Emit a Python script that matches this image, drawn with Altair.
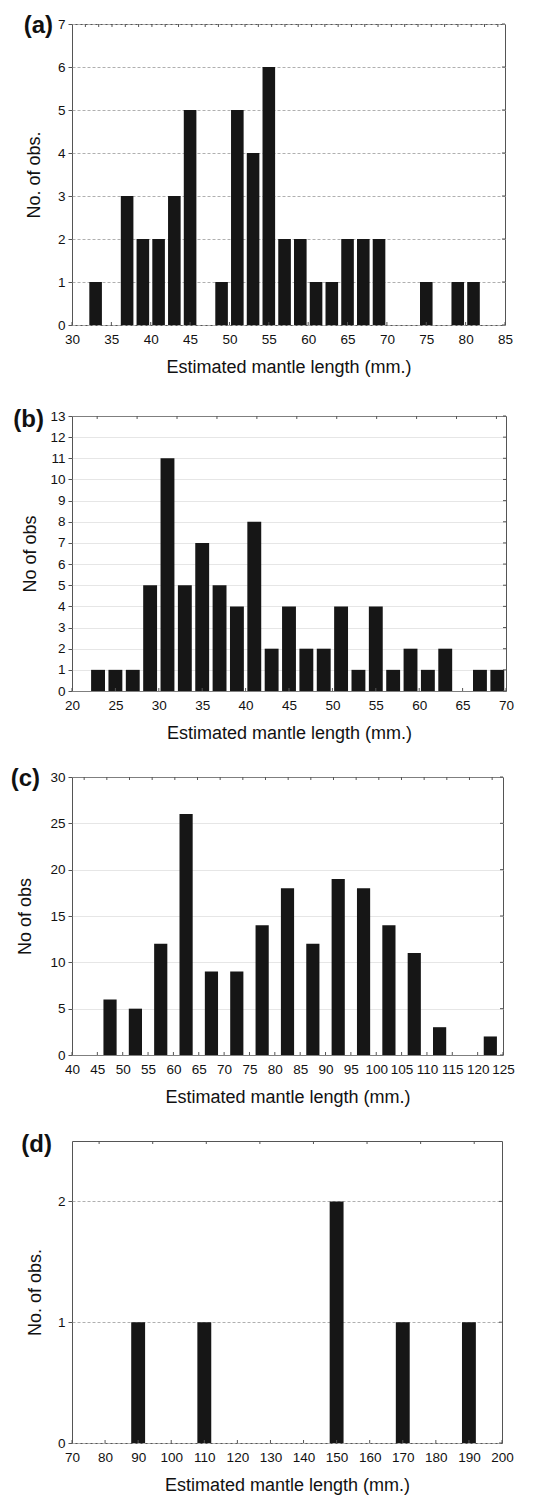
import altair as alt
import numpy as np
import pandas as pd

# ---------------- data ----------------
# (a)
a_mid = [33, 35, 37, 39, 41, 43, 45, 47, 49, 51, 53, 55, 57, 59, 61, 63, 65, 67, 69, 71, 73, 75, 77, 79, 81]
a_cnt = [1, 0, 3, 2, 2, 3, 5, 0, 1, 5, 4, 6, 2, 2, 1, 1, 2, 2, 2, 0, 0, 1, 0, 1, 1]
a_xticks = [30, 35, 40, 45, 50, 55, 60, 65, 70, 75, 80, 85]
a_yticks = [0, 1, 2, 3, 4, 5, 6, 7]

# (b)
b_mid = [23, 25, 27, 29, 31, 33, 35, 37, 39, 41, 43, 45, 47, 49, 51, 53, 55, 57, 59, 61, 63, 65, 67, 69]
b_cnt = [1, 1, 1, 5, 11, 5, 7, 5, 4, 8, 2, 4, 2, 2, 4, 1, 4, 1, 2, 1, 2, 0, 1, 1]
b_xticks = [20, 25, 30, 35, 40, 45, 50, 55, 60, 65, 70]
b_yticks = [0, 1, 2, 3, 4, 5, 6, 7, 8, 9, 10, 11, 12, 13]

# (c)
c_mid = [42.5, 47.5, 52.5, 57.5, 62.5, 67.5, 72.5, 77.5, 82.5, 87.5, 92.5, 97.5, 102.5, 107.5, 112.5, 117.5, 122.5]
c_cnt = [0, 6, 5, 12, 26, 9, 9, 14, 18, 12, 19, 18, 14, 11, 3, 0, 2]
c_xticks = [40, 45, 50, 55, 60, 65, 70, 75, 80, 85, 90, 95, 100, 105, 110, 115, 120, 125]
c_yticks = [0, 5, 10, 15, 20, 25, 30]

# (d)
d_mid = [90, 110, 150, 170, 190]
d_cnt = [1, 1, 2, 1, 1]
d_xticks = [70, 80, 90, 100, 110, 120, 130, 140, 150, 160, 170, 180, 190, 200]
d_yticks = [0, 1, 2]

XTITLE = "Estimated mantle length (mm.)"
FONT = "Liberation Sans"
FRAME = "#555555"
BAR = "#161616"


def panel(mid, cnt, barw, xdom, xticks, ydom, yticks, ytitle, label,
          top_ticks, W, H, dash, gcolor, gwidth, ytpad, lbl_x, lbl_y):
    df = pd.DataFrame({"mid": mid, "cnt": cnt})
    xs = alt.Scale(domain=xdom, nice=False, zero=False)
    ys = alt.Scale(domain=ydom, nice=False)
    xaxis = alt.Axis(
        values=xticks, title=XTITLE, grid=False, ticks=False, domain=False,
        labelPadding=7, labelOverlap=False, labelFlush=False, format="d",
        titlePadding=13)
    yaxis = alt.Axis(
        values=yticks, title=ytitle, grid=True, gridDash=dash, gridColor=gcolor,
        gridWidth=gwidth, ticks=True, tickSize=4, tickColor=FRAME, domain=False,
        labelPadding=3, labelOverlap=False, labelFlush=False, format="d",
        titlePadding=ytpad)
    bars = alt.Chart(df).transform_calculate(
        lo=f"datum.mid - {barw / 2}", hi=f"datum.mid + {barw / 2}", base="0"
    ).mark_bar(color=BAR).encode(
        x=alt.X("lo:Q", scale=xs, axis=xaxis),
        x2="hi:Q",
        y=alt.Y("cnt:Q", scale=ys, axis=yaxis),
        y2="base:Q",
    )
    xt = pd.DataFrame({"lo": xticks})
    tt = pd.DataFrame({"lo": top_ticks})
    yt = pd.DataFrame({"cnt": yticks})
    bot = alt.Chart(xt).mark_rule(color=FRAME, strokeWidth=1).encode(
        x=alt.X("lo:Q", scale=xs, axis=xaxis), y=alt.value(H), y2=alt.value(H - 3))
    top = alt.Chart(tt).mark_rule(color=FRAME, strokeWidth=1).encode(
        x=alt.X("lo:Q", scale=xs, axis=xaxis), y=alt.value(0), y2=alt.value(3))
    right = alt.Chart(yt).mark_rule(color=FRAME, strokeWidth=1).encode(
        y=alt.Y("cnt:Q", scale=ys, axis=yaxis), x=alt.value(W - 3), x2=alt.value(W))
    lab = alt.Chart(pd.DataFrame({"s": [label]})).mark_text(
        font=FONT, fontSize=24, fontWeight="bold", align="right",
        baseline="alphabetic", color="#111111"
    ).encode(x=alt.value(lbl_x), y=alt.value(lbl_y), text="s:N")
    return alt.layer(bars, bot, top, right, lab).properties(width=W, height=H)


pa = panel(a_mid, a_cnt, 1.6, [30, 85], a_xticks, [0, 7], a_yticks, "No. of obs.", "(a)",
           list(np.arange(31.7, 85, 1.69)), 433, 301, [3, 2], "#b0b0b0", 1, 14, -19, 9)
pb = panel(b_mid, b_cnt, 1.6, [20, 70], b_xticks, [0, 13], b_yticks, "No of obs", "(b)",
           list(np.arange(22.9, 70, 4.6)), 434, 275, [1, 1], "#c0c0c0", 0.8, 10, -28, 11)
pc = panel(c_mid, c_cnt, 2.6, [40, 125], c_xticks, [0, 30], c_yticks, "No of obs", "(c)",
           list(np.arange(42.4, 125, 4.47)), 431, 278, [1, 1], "#c0c0c0", 0.8, 15, -32, 9)
pd_ = panel(d_mid, d_cnt, 4.2, [70, 200], d_xticks, [0, 2.5], d_yticks, "No. of obs.", "(d)",
            list(np.arange(78.2, 200, 16.2)), 430, 302, [3, 2], "#b0b0b0", 1, 13, -20, 11)

upper = alt.vconcat(pa, pb, spacing=30)
lower = alt.vconcat(pc, pd_, spacing=25)
chart = alt.vconcat(upper, lower, spacing=23).properties(
    padding={"top": 5, "left": 2, "right": 5, "bottom": 5}
).configure_view(
    stroke=FRAME, strokeWidth=1
).configure_axis(
    labelFont=FONT, labelFontSize=13.5, labelColor="#111111",
    titleFont=FONT, titleFontSize=18, titleFontWeight="normal", titleColor="#111111"
)

chart.save("out.html", embed_options={"renderer": "svg", "actions": False})
